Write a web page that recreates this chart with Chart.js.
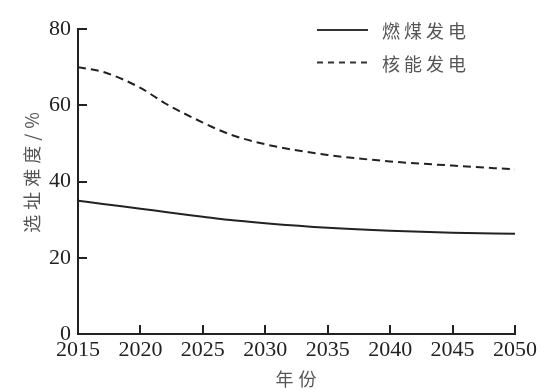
<!DOCTYPE html>
<html>
<head>
<meta charset="utf-8">
<script src="https://cdn.jsdelivr.net/npm/chart.js@4"></script>
<style>
  body { margin: 0; background: #fff; }
</style>
</head>
<body>
<canvas id="chart" width="560" height="389"></canvas>
<script>
const years = [2015, 2017, 2020, 2022, 2025, 2027, 2030, 2035, 2040, 2045, 2050];
const coalValues = [35, 34.1, 32.9, 32, 30.8, 30, 29.1, 27.9, 27.1, 26.6, 26.3];
const nuclearValues = [70, 68.8, 64.6, 60.5, 55.5, 52.6, 49.8, 47, 45.3, 44.2, 43.2];
const seriesNames = ["燃煤发电", "核能发电"];
const xTitle = "年份";
const yTitle = "选址难度/%";

const axisColor = '#222';
const textColor = '#555';
const tickFont = { family: 'Liberation Serif', size: 22 };
const cjkFont = '18px "Noto Sans CJK SC", sans-serif';

// axis titles and the legend are drawn here so they can sit inside the plot and use letter spacing
const annotations = {
    id: 'annotations',
    afterDraw(chart) {
        const c = chart.ctx;
        const area = chart.chartArea;
        c.save();
        c.font = cjkFont;
        c.fillStyle = textColor;
        c.letterSpacing = '5px';
        c.textBaseline = 'middle';
        c.textAlign = 'center';

        // y title
        c.save();
        c.translate(32, 172);
        c.rotate(-Math.PI / 2);
        c.fillText(yTitle, 2, 0);
        c.restore();

        // x title
        c.fillText(xTitle, (area.left + area.right) / 2 + 2, 379);

        // legend
        c.letterSpacing = '4px';
        c.textAlign = 'left';
        c.strokeStyle = '#333';
        c.lineWidth = 2;
        const rows = [{ y: 30, dash: [] }, { y: 62.5, dash: [6, 5] }];
        rows.forEach((row, i) => {
            c.setLineDash(row.dash);
            c.beginPath();
            c.moveTo(317, row.y);
            c.lineTo(368, row.y);
            c.stroke();
            c.fillText(seriesNames[i], 382, row.y + 1.5);
        });
        c.restore();
    }
};

const ctx = document.getElementById('chart').getContext('2d');
new Chart(ctx, {
    type: 'line',
    data: {
        datasets: [{
            label: seriesNames[0],
            data: years.map((y, i) => ({ x: y, y: coalValues[i] })),
            borderColor: '#222',
            borderWidth: 2,
            pointRadius: 0,
            cubicInterpolationMode: 'monotone'
        }, {
            label: seriesNames[1],
            data: years.map((y, i) => ({ x: y, y: nuclearValues[i] })),
            borderColor: '#222',
            borderWidth: 2,
            borderDash: [8, 5],
            pointRadius: 0,
            cubicInterpolationMode: 'monotone'
        }]
    },
    options: {
        responsive: false,
        animation: false,
        layout: { padding: { left: 20, right: 45, top: 26, bottom: 0 } },
        plugins: { legend: { display: false }, tooltip: { enabled: false } },
        scales: {
            x: {
                type: 'linear',
                min: 2015,
                max: 2050,
                afterFit: (scale) => { scale.height = 55; },
                border: { display: true, color: axisColor, width: 2 },
                grid: { drawOnChartArea: false, color: axisColor, lineWidth: 2, tickLength: -9 },
                ticks: {
                    stepSize: 5,
                    color: axisColor,
                    font: tickFont,
                    padding: 12,
                    maxRotation: 0,
                    callback: (v) => String(v)
                }
            },
            y: {
                min: 0,
                max: 80,
                afterFit: (scale) => { scale.width = 58; },
                border: { display: true, color: axisColor, width: 2 },
                grid: { drawOnChartArea: false, color: axisColor, lineWidth: 2, tickLength: -9 },
                ticks: {
                    stepSize: 20,
                    color: axisColor,
                    font: tickFont,
                    padding: 16
                }
            }
        }
    },
    plugins: [annotations]
});
</script>
</body>
</html>
